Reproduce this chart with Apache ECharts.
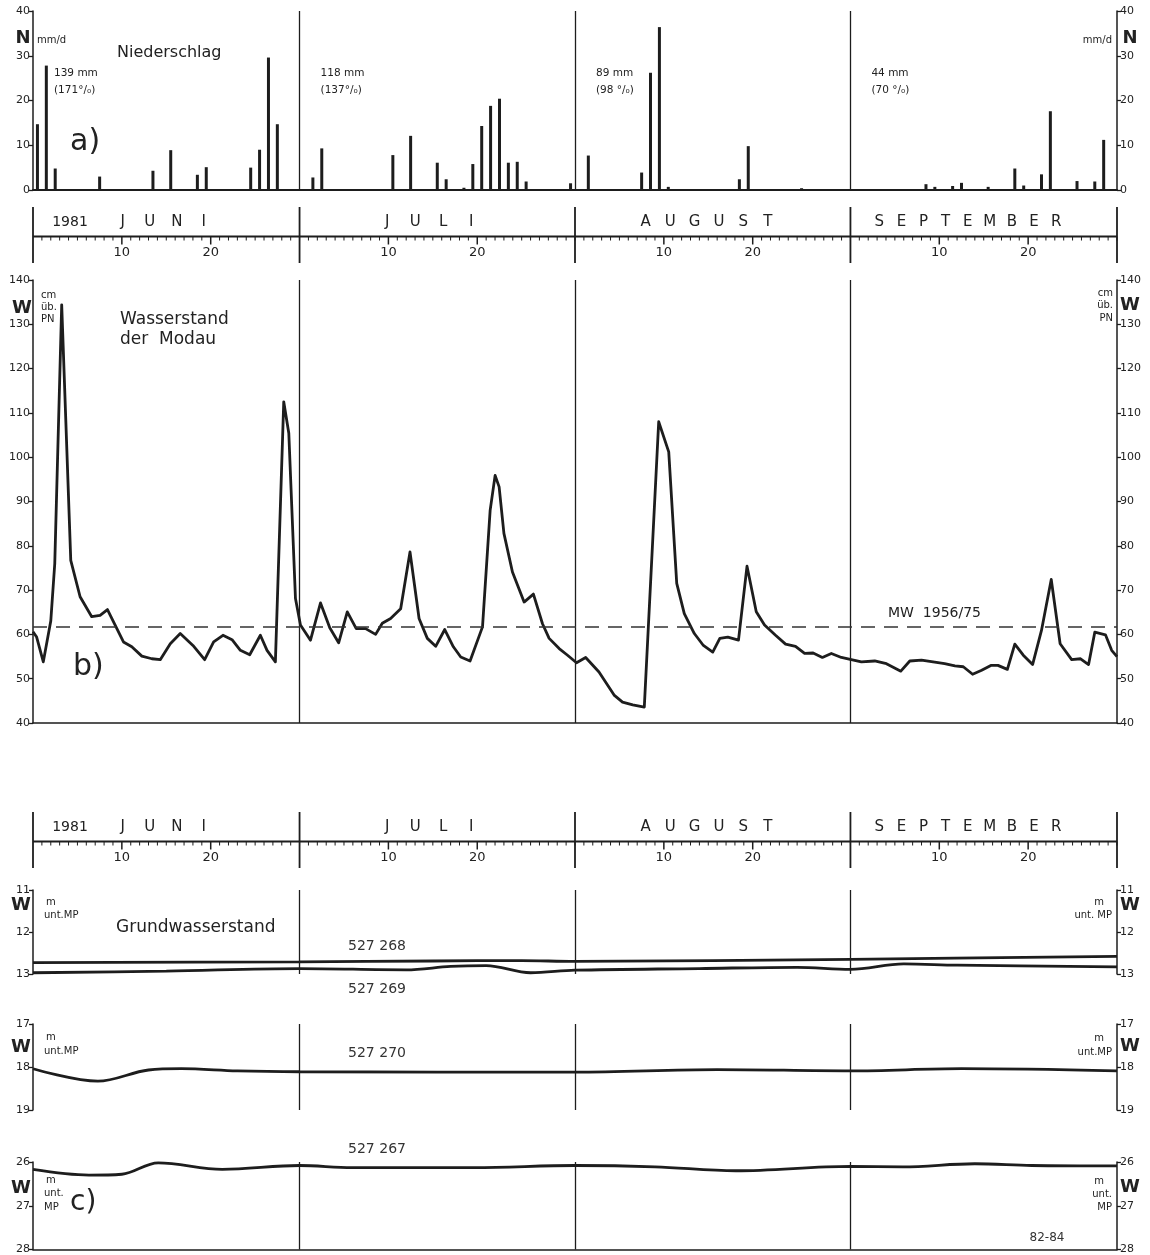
<!DOCTYPE html>
<html lang="de">
<head>
<meta charset="utf-8">
<title>Niederschlag, Wasserstand der Modau, Grundwasserstand 1981</title>
<script src="https://cdn.jsdelivr.net/npm/echarts@6/dist/echarts.min.js"></script>
<style>
html,body{margin:0;padding:0;background:#fff;}
#chart{width:1150px;height:1255px;}
</style>
</head>
<body>
<div id="chart"></div>
<script>
// ---------------- DATA ----------------
const year = '1981';
const monthNames = ['JUNI', 'JULI', 'AUGUST', 'SEPTEMBER'];
const monthLengths = [30, 31, 31, 30];
const dayTickLabels = [10, 20];

// daily precipitation: [day of month, mm/d]
const rainJune = [[1,14.7],[2,27.8],[3,4.8],[8,3.0],[14,4.3],[16,8.9],[19,3.4],[20,5.1],[25,5.0],[26,9.0],[27,29.6],[28,14.7]];
const rainJuly = [[2,2.8],[3,9.3],[11,7.8],[13,12.1],[16,6.1],[17,2.4],[19,0.5],[20,5.8],[21,14.3],[22,18.8],[23,20.4],[24,6.1],[25,6.3],[26,1.9],[31,1.5]];
const rainAugust = [[2,7.7],[8,3.9],[9,26.2],[10,36.4],[11,0.7],[19,2.4],[20,9.8],[26,0.4]];
const rainSeptember = [[9,1.3],[10,0.7],[12,0.9],[13,1.6],[16,0.7],[19,4.8],[20,1.0],[22,3.5],[23,17.6],[26,2.0],[28,1.9],[29,11.2]];
const monthTotals = ['139 mm', '118 mm', '89 mm', '44 mm'];
const monthPercents = ['(171°/₀)', '(137°/₀)', '(98 °/₀)', '(70 °/₀)'];
const precipTicks = [0, 10, 20, 30, 40];

// water level of the Modau: [days since 1 June, cm above PN]
const waterLevel = [
 [0,60.6],[0.41,59.4],[1.16,53.8],[2.0,63.0],[2.45,76.0],[3.23,134.4],[4.25,76.7],[5.3,68.5],[6.61,64.0],[7.55,64.3],
 [8.38,65.6],[10.18,58.3],[11.12,57.2],[12.25,55.1],[13.38,54.5],[14.32,54.3],[15.45,57.9],[16.57,60.2],[18.0,57.5],
 [19.32,54.3],[20.33,58.3],[21.38,59.8],[22.4,58.8],[23.34,56.4],[24.39,55.4],[25.59,59.8],[26.34,56.4],[27.28,53.8],
 [28.22,112.5],[28.79,105.4],[29.54,68.1],[30.1,62.1],[31.23,58.7],[32.36,67.1],[33.4,61.5],[34.4,58.1],[35.37,65.1],
 [36.38,61.3],[37.43,61.3],[38.56,60.0],[39.31,62.5],[40.25,63.6],[41.38,65.8],[42.43,78.6],[43.45,63.6],[44.38,59.1],
 [45.32,57.3],[46.34,61.1],[47.31,57.2],[48.14,54.9],[49.19,54.0],[50.59,61.7],[51.45,88.0],[52.01,95.9],[52.46,93.3],
 [53.0,82.8],[53.96,74.1],[55.27,67.3],[56.32,69.1],[57.34,62.4],[58.09,59.1],[59.22,56.8],[60.16,55.3],[61.17,53.6],
 [62.2,54.8],[63.7,51.5],[65.4,46.3],[66.35,44.7],[67.5,44.1],[68.8,43.6],[70.42,108.0],[71.55,101.2],[72.45,71.5],
 [73.3,64.7],[74.43,60.2],[75.45,57.5],[76.5,56.0],[77.3,59.1],[78.2,59.4],[79.4,58.7],[80.36,75.4],[81.4,65.1],
 [82.33,62.1],[83.57,59.8],[84.7,57.8],[85.82,57.3],[86.84,55.7],[87.8,55.8],[88.84,54.8],[89.85,55.7],[90.98,54.8],
 [92.1,54.3],[93.23,53.8],[94.73,54.0],[96.05,53.4],[97.67,51.7],[98.68,54.0],[100,54.2],[101.3,53.8],[102.6,53.4],
 [103.76,52.9],[104.7,52.7],[105.75,51.0],[106.77,51.9],[107.8,53.0],[108.6,53.0],[109.66,52.1],[110.5,57.8],
 [111.45,55.3],[112.5,53.2],[113.5,60.9],[114.6,72.4],[115.6,57.9],[116.9,54.3],[117.9,54.5],[118.8,53.2],[119.5,60.5],
 [120.7,59.9],[121.4,56.4],[122,55.0]
];
const meanWater = 61.8;
const meanWaterLabel = 'MW  1956/75';
const waterTicks = [40, 50, 60, 70, 80, 90, 100, 110, 120, 130, 140];

// groundwater levels: [days since 1 June, m below MP]
const gw527268 = [[0,12.73],[30,12.71],[45,12.69],[55,12.68],[61,12.70],[92,12.65],[122,12.58]];
const gw527269 = [[0,12.97],[15,12.93],[30,12.87],[42,12.90],[47,12.82],[51,12.80],[56,12.97],[61,12.91],[75,12.87],[86,12.84],[92,12.89],[98,12.76],[104,12.79],[122,12.83]];
const gw527270 = [[0,18.04],[7.3,18.33],[13,18.07],[16.7,18.04],[23,18.09],[30,18.11],[61,18.12],[77,18.06],[92,18.09],[104.5,18.04],[122,18.09]];
const gw527267 = [[0,26.17],[6.3,26.30],[10,26.28],[14.1,26.02],[21.3,26.17],[30,26.08],[35.9,26.13],[49.7,26.13],[61,26.08],[70,26.11],[79.1,26.20],[92,26.10],[97.9,26.11],[106,26.04],[112.4,26.08],[122,26.09]];
const gwTicksA = [11, 12, 13];
const gwTicksB = [17, 18, 19];
const gwTicksC = [26, 27, 28];
const wellNames = ['527 268', '527 269', '527 270', '527 267'];

// ---------------- LAYOUT / STYLE ----------------
const FONT = '"DejaVu Sans", "Liberation Sans", sans-serif';
const INK = '#1d1d1d';
const TXT = '#222';
const GL = 33, GW = 1084;

const monthStart = [];
monthLengths.reduce((acc, l) => { monthStart.push(acc); return acc + l; }, 0);
const totalDays = monthLengths.reduce((a, b) => a + b, 0);
const dayX = t => GL + t * GW / totalDays;

const rainData = [];
[rainJune, rainJuly, rainAugust, rainSeptember].forEach((arr, m) =>
  arr.forEach(([d, v]) => rainData.push([monthStart[m] + d - 0.5, v])));

const grids = [
  {left: GL, width: GW, top: 11, height: 179},    // precipitation
  {left: GL, width: GW, top: 207, height: 56},    // calendar strip 1
  {left: GL, width: GW, top: 280, height: 443},   // water level
  {left: GL, width: GW, top: 812, height: 56},    // calendar strip 2
  {left: GL, width: GW, top: 890, height: 84},    // gw 268/269
  {left: GL, width: GW, top: 1024, height: 86},   // gw 270
  {left: GL, width: GW, top: 1162, height: 88}    // gw 267
];

const xAxes = grids.map((g, i) => ({
  type: 'value', gridIndex: i, min: 0, max: totalDays,
  axisLabel: {show: false}, axisTick: {show: false}, splitLine: {show: false},
  axisLine: {show: i === 0 || i === 2 || i === 6, onZero: false, lineStyle: {color: INK, width: i === 0 ? 2 : 1.6}}
}));

function yAxisPair(gi, ticks, inverse) {
  return ['left', 'right'].map(pos => ({
    type: 'value', gridIndex: gi, position: pos,
    min: ticks[0], max: ticks[ticks.length - 1], interval: ticks[1] - ticks[0], inverse: !!inverse,
    splitLine: {show: false},
    axisLine: {show: true, onZero: false, lineStyle: {color: INK, width: 1.5}},
    axisTick: {show: true, inside: false, length: 4, lineStyle: {color: INK, width: 1.3}},
    axisLabel: {color: TXT, fontFamily: FONT, fontSize: 11, margin: 3}
  }));
}
const hiddenY = gi => ({type: 'value', gridIndex: gi, min: 0, max: 1, show: false});

const yAxes = [
  ...yAxisPair(0, precipTicks),      // 0,1
  hiddenY(1),                        // 2
  ...yAxisPair(2, waterTicks),       // 3,4
  hiddenY(3),                        // 5
  ...yAxisPair(4, gwTicksA, true),   // 6,7
  ...yAxisPair(5, gwTicksB, true),   // 8,9
  ...yAxisPair(6, gwTicksC, true)    // 10,11
];

const monthMarks = monthStart.slice(1).map(t => ({xAxis: t}));
const markMonths = extra => ({
  silent: true, symbol: ['none', 'none'], label: {show: false}, animation: false,
  lineStyle: {color: INK, width: 1.3, type: 'solid'}, data: monthMarks.concat(extra || [])
});

const monthLetterGap = [27, 28, 24.4, 22.1];
const monthLabelShift = [-3, -8, -6, -16];
function stripSeries(gi, yi) {
  return {
    type: 'custom', xAxisIndex: gi, yAxisIndex: yi, silent: true, clip: false,
    data: monthNames.map((n, i) => [monthStart[i], monthStart[i] + monthLengths[i], i]),
    encode: {x: [0, 1]},
    renderItem(params, api) {
      const s = api.value(0), e = api.value(1), i = api.value(2);
      const p0 = api.coord([s, 1]);
      const xs = p0[0], top = p0[1];
      const bot = api.coord([s, 0])[1];
      const xe = api.coord([e, 1])[0];
      const base = top + 29.5;
      const ch = [];
      const line = (x1, y1, x2, y2, w) => ch.push({type: 'line', shape: {x1, y1, x2, y2}, style: {stroke: INK, lineWidth: w}});
      line(xs, top, xs, bot, 1.8);
      if (i === monthNames.length - 1) line(xe, top, xe, bot, 1.8);
      line(xs, base, xe, base, 1.8);
      for (let d = 1; d <= monthLengths[i]; d++) {
        const x = api.coord([s + d, 0])[0];
        const major = dayTickLabels.indexOf(d) >= 0;
        line(x, base, x, base + (major ? 8 : 4), major ? 1.5 : 1);
        if (major) ch.push({type: 'text', x, y: base + 10,
          style: {text: String(d), font: '13px ' + FONT, fill: TXT, align: 'center', verticalAlign: 'top'}});
      }
      const letters = monthNames[i].split('');
      const cx = (xs + xe) / 2 + monthLabelShift[i];
      letters.forEach((c, k) => ch.push({type: 'text', x: cx + (k - (letters.length - 1) / 2) * monthLetterGap[i], y: base - 14,
        style: {text: c, font: '15px ' + FONT, fill: TXT, align: 'center', verticalAlign: 'middle'}}));
      if (i === 0) ch.push({type: 'text', x: xs + 37, y: base - 14,
        style: {text: year, font: '14px ' + FONT, fill: TXT, align: 'center', verticalAlign: 'middle'}});
      return {type: 'group', children: ch};
    }
  };
}

const gwLine = (xi, yi, data, extra) => Object.assign({
  type: 'line', xAxisIndex: xi, yAxisIndex: yi, data, smooth: 0.35, symbol: 'none', showSymbol: false, silent: true,
  lineStyle: {color: INK, width: 2.8}
}, extra || {});

const txt = (text, x, y, size, o) => {
  o = o || {};
  return {type: 'text', x, y, silent: true, z: 100,
    style: {text, font: (o.bold ? 'bold ' : '') + size + 'px ' + FONT, fill: o.fill || TXT,
      align: o.align || 'left', verticalAlign: 'middle'}};
};

const graphics = [
  // precipitation
  txt('N', 23, 38, 18, {bold: true, align: 'center'}),
  txt('mm/d', 37, 40, 10),
  txt('mm/d', 1112, 40, 10, {align: 'right'}),
  txt('N', 1130, 38, 18, {bold: true, align: 'center'}),
  txt('Niederschlag', 117, 53, 16),
  txt('a)', 70, 142, 30),
  // water level
  txt('W', 22, 308, 18, {bold: true, align: 'center'}),
  txt('cm', 41, 295, 10), txt('üb.', 41, 307, 10), txt('PN', 41, 319, 10),
  txt('cm', 1113, 293, 10, {align: 'right'}), txt('üb.', 1113, 305, 10, {align: 'right'}), txt('PN', 1113, 318, 10, {align: 'right'}),
  txt('W', 1130, 305, 18, {bold: true, align: 'center'}),
  txt('Wasserstand', 120, 320, 17),
  txt('der  Modau', 120, 340, 17),
  txt('b)', 73, 667, 30),
  txt(meanWaterLabel, 888, 613, 14),
  // groundwater
  txt('W', 21, 905, 18, {bold: true, align: 'center'}),
  txt('m', 46, 902, 10), txt('unt.MP', 44, 915, 10),
  txt('W', 1130, 905, 18, {bold: true, align: 'center'}),
  txt('m', 1104, 902, 10, {align: 'right'}), txt('unt. MP', 1112, 915, 10, {align: 'right'}),
  txt('Grundwasserstand', 116, 928, 17),
  txt(wellNames[0], 377, 946, 14, {align: 'center', fill: '#333'}),
  txt(wellNames[1], 377, 989, 14, {align: 'center', fill: '#333'}),
  txt('W', 21, 1047, 18, {bold: true, align: 'center'}),
  txt('m', 46, 1037, 10), txt('unt.MP', 44, 1051, 10),
  txt('W', 1130, 1046, 18, {bold: true, align: 'center'}),
  txt('m', 1104, 1038, 10, {align: 'right'}), txt('unt.MP', 1112, 1052, 10, {align: 'right'}),
  txt(wellNames[2], 377, 1053, 14, {align: 'center', fill: '#333'}),
  txt(wellNames[3], 377, 1149, 14, {align: 'center', fill: '#333'}),
  txt('W', 21, 1188, 18, {bold: true, align: 'center'}),
  txt('m', 46, 1180, 10), txt('unt.', 44, 1193, 10), txt('MP', 44, 1207, 10),
  txt('c)', 70, 1203, 28),
  txt('W', 1130, 1187, 18, {bold: true, align: 'center'}),
  txt('m', 1104, 1181, 10, {align: 'right'}), txt('unt.', 1112, 1194, 10, {align: 'right'}), txt('MP', 1112, 1207, 10, {align: 'right'}),
  txt('82-84', 1047, 1238, 12, {align: 'center', fill: '#333'})
];
monthTotals.forEach((s, i) => {
  const x = dayX(monthStart[i]) + 21;
  graphics.push(txt(s, x, 73, 10.5));
  graphics.push(txt(monthPercents[i], x, 90, 10.5));
});

const chart = echarts.init(document.getElementById('chart'), null, {renderer: 'canvas'});
chart.setOption({
  animation: false,
  backgroundColor: '#ffffff',
  textStyle: {fontFamily: FONT},
  grid: grids,
  xAxis: xAxes,
  yAxis: yAxes,
  graphic: graphics,
  series: [
    {type: 'bar', xAxisIndex: 0, yAxisIndex: 0, data: rainData, barWidth: 3, silent: true,
     itemStyle: {color: INK}, markLine: markMonths()},
    stripSeries(1, 2),
    {type: 'line', xAxisIndex: 2, yAxisIndex: 3, data: waterLevel, symbol: 'none', showSymbol: false, silent: true,
     lineStyle: {color: INK, width: 2.8, join: 'round'},
     markLine: markMonths([{yAxis: meanWater, lineStyle: {type: [14, 9], width: 1.5, color: '#333'}}])},
    stripSeries(3, 5),
    gwLine(4, 6, gw527268, {markLine: markMonths()}),
    gwLine(4, 6, gw527269),
    gwLine(5, 8, gw527270, {markLine: markMonths()}),
    gwLine(6, 10, gw527267, {markLine: markMonths()})
  ]
});
</script>
</body>
</html>
